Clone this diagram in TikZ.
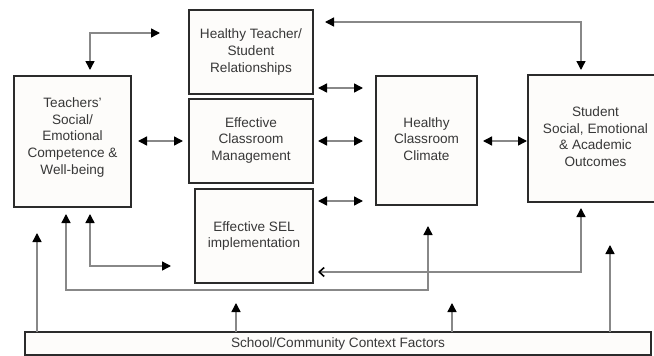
\documentclass[tikz,border=0pt]{standalone}
\usepackage{fontspec}
\setmainfont{Liberation Sans}
\usetikzlibrary{arrows.meta,calc}
\definecolor{linegray}{HTML}{888888}
\definecolor{boxline}{HTML}{2B2B2B}
\definecolor{boxfill}{HTML}{FDFCFA}
\definecolor{txt}{HTML}{383838}
\tikzset{
  box/.style={draw=boxline, line width=2pt, fill=boxfill, anchor=north west,
    inner sep=0pt, outer sep=0pt, align=center, text=txt,
    font=\fontsize{13.6}{16.7}\selectfont},
  conn/.style={draw=linegray, line width=1.4pt},
  >={Triangle[length=9pt,width=9pt,color=black]},
  openbarb/.tip={Straight Barb[length=5pt,width=9pt,line width=1.6pt,color=black]}
}
\begin{document}
\begin{tikzpicture}[x=1pt,y=-1pt]
\path[use as bounding box] (0,0) rectangle (654,356);
\clip (0,0) rectangle (654,356);
\fill[white] (0,0) rectangle (654,356);

\node[box, minimum width=117pt, minimum height=131pt] (tw) at (14,76)
  {Teachers\symbol{39}\\Social/\\Emotional\\Competence \&\\Well-being\\[-5.7pt]\mbox{}};
\node[box, minimum width=124pt, minimum height=84pt] (htr) at (189,10)
  {Healthy Teacher/\\Student\\Relationships};
\node[box, minimum width=124pt, minimum height=84pt] (ecm) at (189,99)
  {Effective\\Classroom\\Management\\[-12.7pt]\mbox{}};
\node[box, minimum width=118pt, minimum height=94pt] (sel) at (195,189)
  {Effective SEL\\implementation};
\node[box, minimum width=101pt, minimum height=129pt] (hcc) at (376,76)
  {Healthy\\Classroom\\Climate\\[-13.7pt]\mbox{}};
\node[box, minimum width=135pt, minimum height=127pt] (sto) at (528,75)
  {Student\\Social, Emotional\\\& Academic\\Outcomes\\[-12.7pt]\mbox{}};
\node[box, minimum width=626pt, minimum height=23pt] (sch) at (25,332)
  {School/Community Context Factors};

% top-left elbow
\draw[conn,<->] ($(tw.north west)+(76,-6)$) |- ($(htr.north west)+(-29,23)$);
% top-right elbow
\draw[conn,<->] ($(htr.north east)+(12,12)$) -| ($(sto.north west)+(53,-5)$);
% teacher - ecm
\draw[conn,<->] ($(tw.east |- ecm.west)+(7,0)$) -- ($(ecm.west)+(-6,0)$);
% middle column - climate
\draw[conn,<->] ($(htr.south east)+(5,-6)$) -- ($(htr.south east -| hcc.west)+(-13,-6)$);
\draw[conn,<->] ($(ecm.east)+(5,0)$) -- ($(ecm.east -| hcc.west)+(-13,0)$);
\draw[conn,<->] ($(sel.north east)+(5,12)$) -- ($(sel.north east -| hcc.west)+(-13,12)$);
% climate - student
\draw[conn,<->] ($(hcc.east |- ecm.east)+(6,0)$) -- ($(sto.west |- ecm.east)+(-1,0)$);
% student - SEL
\draw[conn,{openbarb}->] ($(sel.south east)+(5,-11)$) -| ($(sto.south west)+(53,6)$);
% teacher - climate
\draw[conn,<->] ($(tw.south west)+(52,7)$) |- ($(hcc.south west)+(52,85)$) -- ($(hcc.south west)+(52,21)$);
% teacher - SEL
\draw[conn,<->] ($(tw.south west)+(76,7)$) |- ($(sel.south west)+(-24,-17)$);
% context factors
\draw[conn,->] ($(sch.north west)+(12,0)$) -- ($(tw.south west)+(23,26)$);
\draw[conn,->] ($(sch.north west)+(211,0)$) -- ++(0,-29);
\draw[conn,->] ($(sch.north west)+(427,0)$) -- ++(0,-29);
\draw[conn,->] ($(sch.north west)+(585,0)$) -- ($(sto.south west)+(82,43)$);
\end{tikzpicture}
\end{document}
